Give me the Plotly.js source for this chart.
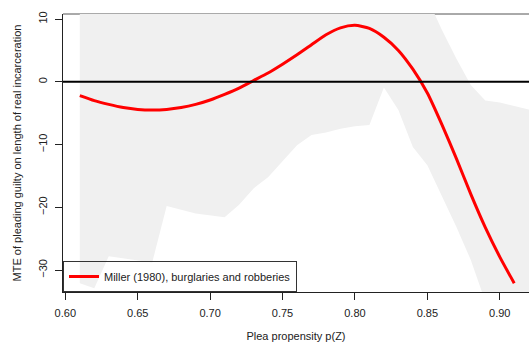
<!DOCTYPE html>
<html>
<head>
<meta charset="utf-8">
<script src="https://cdn.plot.ly/plotly-3.0.1.min.js"></script>
<style>html,body{margin:0;padding:0;background:#fff;}#chart{width:529px;height:347px;}</style>
</head>
<body>
<div id="chart"></div>
<script>
// MTE curve
const pZ = [0.61,0.62,0.63,0.64,0.65,0.66,0.67,0.68,0.69,0.70,0.71,0.72,0.73,0.74,0.75,0.76,0.77,0.78,0.79,0.80,0.81,0.82,0.83,0.84,0.85,0.86,0.87,0.88,0.89,0.90,0.91];
const mte = [-2.2,-3.0,-3.6,-4.1,-4.4,-4.5,-4.4,-4.1,-3.6,-2.9,-2.0,-1.0,0.2,1.4,2.8,4.3,5.9,7.5,8.6,9.0,8.5,7.1,5.0,2.0,-1.8,-6.8,-12.2,-17.9,-23.2,-27.9,-32.1];

// confidence band
const bandX = [0.61,0.62,0.63,0.64,0.65,0.66,0.67,0.68,0.69,0.70,0.71,0.72,0.73,0.74,0.75,0.76,0.77,0.78,0.79,0.80,0.81,0.82,0.83,0.84,0.85,0.86,0.87,0.88,0.89,0.90,0.91,0.92,0.93];
const bandUpper = [16,16,16,16,16,16,16,16,16,16,16,16,16,16,16,16,16,16,16,16,16,16,16,15,13.3,8.3,3.7,-0.5,-3.0,-3.3,-3.9,-4.4,-4.8];
const bandLower = [-32.1,-32.9,-27.8,-28.1,-28.5,-28.8,-19.8,-20.4,-21.0,-21.3,-21.6,-19.6,-17.0,-15.2,-12.6,-10.1,-8.5,-8.1,-7.5,-7.1,-6.9,-0.9,-4.5,-10.4,-13.3,-18.2,-23.1,-28.4,-35,-38,-40,-42,-44];

const xTicks = [0.60,0.65,0.70,0.75,0.80,0.85,0.90];
const yTicks = [-30,-20,-10,0,10];
const seriesName = "Miller (1980), burglaries and robberies";

const polyX = bandX.concat(bandX.slice().reverse());
const polyY = bandUpper.concat(bandLower.slice().reverse());

const font = {family: "Liberation Sans, Arial, Helvetica, sans-serif", size: 11, color: "#222"};

const traces = [
  {x: polyX, y: polyY, type: "scatter", mode: "lines", fill: "toself",
   fillcolor: "#f0f0f0", line: {width: 0, color: "#f0f0f0"}, showlegend: false, hoverinfo: "skip"},
  {x: pZ, y: mte, type: "scatter", mode: "lines", name: seriesName,
   line: {color: "#ff0000", width: 3, shape: "spline", smoothing: 0.6}}
];

const layout = {
  width: 529, height: 347,
  margin: {l: 63, r: 0, t: 14, b: 55},
  paper_bgcolor: "#fff", plot_bgcolor: "#fff",
  font: font,
  showlegend: true,
  legend: {x: 0, y: 0, xanchor: "left", yanchor: "bottom", xref: "paper", yref: "paper",
           bgcolor: "rgba(0,0,0,0)", bordercolor: "#333", borderwidth: 1,
           font: font, itemwidth: 30},
  xaxis: {range: [0.5984, 0.9202], tickvals: xTicks, ticktext: xTicks.map(v => v.toFixed(2)),
          ticks: "outside", ticklen: 7, tickcolor: "#222", tickwidth: 1,
          showline: true, linecolor: "#222", linewidth: 1, showgrid: false, zeroline: false,
          ticklabelstandoff: 4,
          title: {text: "Plea propensity p(Z)", font: font, standoff: 14}},
  yaxis: {range: [-33.5, 10.8], tickvals: yTicks, ticktext: yTicks.map(v => v < 0 ? "\u2212" + Math.abs(v) : String(v)),
          tickangle: -90,
          ticks: "outside", ticklen: 7, tickcolor: "#222", tickwidth: 1,
          showline: true, linecolor: "#222", linewidth: 1, showgrid: false, zeroline: false,
          ticklabelstandoff: 4,
          title: {text: "MTE of pleading guilty on length of real incarceration", font: font, standoff: 12}},
  shapes: [
    {type: "line", xref: "paper", yref: "y", x0: 0, x1: 1, y0: 0, y1: 0,
     line: {color: "#000", width: 2}, layer: "above"},
    {type: "line", xref: "paper", yref: "paper", x0: 0, x1: 1, y0: 1, y1: 1,
     line: {color: "#555", width: 1}, layer: "below"}
  ]
};

Plotly.newPlot("chart", traces, layout, {displayModeBar: false, staticPlot: true});
</script>
</body>
</html>
